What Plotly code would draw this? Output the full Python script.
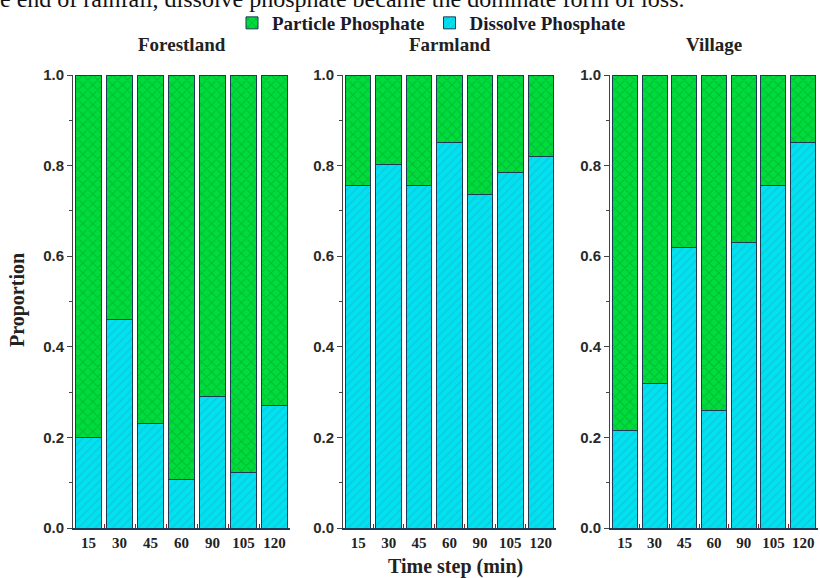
import plotly.graph_objects as go

W, H = 820, 578
times = ["15", "30", "45", "60", "90", "105", "120"]
panels = ["Forestland", "Farmland", "Village"]
dissolve_forest = [0.20, 0.46, 0.23, 0.107, 0.29, 0.122, 0.27]
dissolve_farm = [0.755, 0.803, 0.757, 0.85, 0.737, 0.784, 0.819]
dissolve_village = [0.215, 0.32, 0.62, 0.26, 0.63, 0.755, 0.852]
dissolve_all = [dissolve_forest, dissolve_farm, dissolve_village]
particle_all = [[round(1 - v, 3) for v in s] for s in dissolve_all]

GREEN = "#00dc3c"
GREEN_FG = "#009e2c"
CYAN = "#00e2ef"
CYAN_FG = "#1fb0cc"
EDGE = "#1d3b57"

fig = go.Figure()
xdoms = [(73, 290), (343, 556), (610, 818)]
ydom = ((H - 528) / H, (H - 75) / H)

for i in range(3):
    sfx = "" if i == 0 else str(i + 1)
    fig.add_trace(go.Bar(
        x=times, y=dissolve_all[i], name="Dissolve Phosphate",
        xaxis="x" + sfx, yaxis="y" + sfx, showlegend=(i == 0), legendrank=2,
        marker=dict(color=CYAN, line=dict(color=EDGE, width=1),
                    pattern=dict(shape="/", fgcolor=CYAN_FG, bgcolor=CYAN, size=6, solidity=0.25)),
    ))
    fig.add_trace(go.Bar(
        x=times, y=particle_all[i], name="Particle Phosphate",
        xaxis="x" + sfx, yaxis="y" + sfx, showlegend=(i == 0), legendrank=1,
        marker=dict(color=GREEN, line=dict(color=EDGE, width=1),
                    pattern=dict(shape="x", fgcolor=GREEN_FG, bgcolor=GREEN, size=7, solidity=0.3)),
    ))

layout = dict(
    width=W, height=H, margin=dict(l=0, r=0, t=0, b=0, autoexpand=False),
    paper_bgcolor="white", plot_bgcolor="white",
    barmode="stack", bargap=0.16,
    legend=dict(orientation="h", x=232 / W, y=1 - 23 / H, xanchor="left", yanchor="middle",
                font=dict(family="Liberation Serif", size=19, color="#1a1a2a", weight="bold"),
                itemwidth=30, tracegroupgap=0, traceorder="normal", bgcolor="rgba(0,0,0,0)"),
    font=dict(family="Liberation Serif", color="#222"),
)
for i in range(3):
    sfx = "" if i == 0 else str(i + 1)
    a, b = xdoms[i]
    layout["xaxis" + sfx] = dict(
        domain=[a / W, b / W], anchor="y" + sfx, type="category", automargin=False,
        tickson="boundaries", ticks="inside", ticklen=4, tickcolor="#8b2020",
        showline=True, linecolor=EDGE, linewidth=1.5, tickangle=0,
        tickfont=dict(family="Liberation Serif", size=15, color="#222", weight="bold"),
        showgrid=False, zeroline=False,
    )
    layout["yaxis" + sfx] = dict(
        domain=list(ydom), anchor="x" + sfx, range=[0, 1.0], dtick=0.2, tickformat=".1f",
        automargin=False,
        ticks="outside", ticklen=5, tickcolor="#444", showline=True, linecolor="#444", linewidth=1,
        minor=dict(dtick=0.1, ticks="outside", ticklen=3, tickcolor="#444"),
        tickfont=dict(family="Liberation Sans", size=15, color="#2a2a2a", weight="bold"),
        showgrid=False, zeroline=False,
    )
fig.update_layout(**layout)

ann = []
ann.append(dict(text="e end of rainfall, dissolve phosphate became the dominate form of loss.",
                x=-2 / W, y=1 - 14 / H, xref="paper", yref="paper",
                showarrow=False, xanchor="left", yanchor="bottom",
                font=dict(family="Liberation Serif", size=24, color="#111")))
for i, p in enumerate(panels):
    a, b = xdoms[i]
    ann.append(dict(text=p, x=(a + b) / 2 / W, y=1 - 44 / H, xref="paper", yref="paper",
                    showarrow=False, xanchor="center", yanchor="middle",
                    font=dict(family="Liberation Serif", size=19, color="#222", weight="bold")))
ann.append(dict(text="Proportion", x=17 / W, y=1 - 300 / H, xref="paper", yref="paper", textangle=-90,
                showarrow=False, xanchor="center", yanchor="middle",
                font=dict(family="Liberation Serif", size=20, color="#222", weight="bold")))
ann.append(dict(text="Time step (min)", x=455 / W, y=1 - 566 / H, xref="paper", yref="paper",
                showarrow=False, xanchor="center", yanchor="middle",
                font=dict(family="Liberation Serif", size=20, color="#222", weight="bold")))
fig.update_layout(annotations=ann)

fig.write_html("out.html")
